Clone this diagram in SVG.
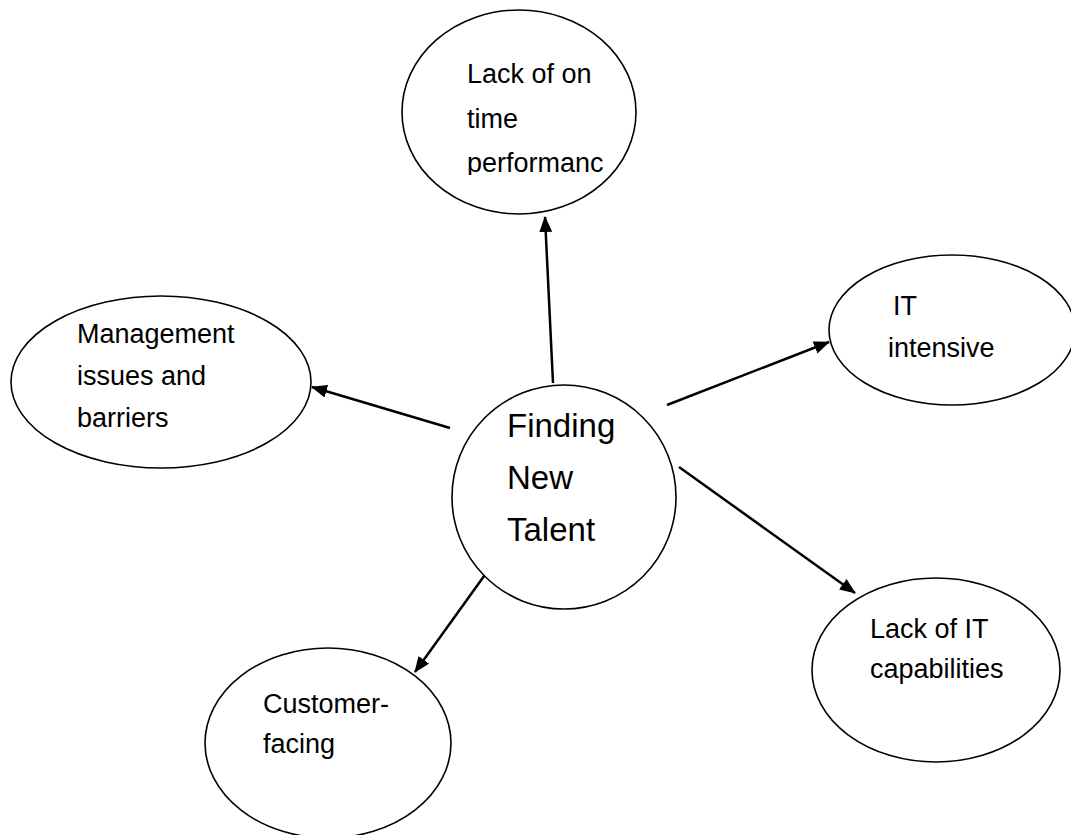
<svg xmlns="http://www.w3.org/2000/svg" width="1071" height="835" viewBox="0 0 1071 835">
  <style>
    .node { fill: #ffffff; stroke: #000000; stroke-width: 1.6; }
    .lbl { font-family: "Liberation Sans", Arial, sans-serif; font-size: 27px; fill: #000000; }
    .big { font-size: 33px; }
    .link { stroke: #000000; stroke-width: 2.5; fill: none; marker-end: url(#arrow); }
  </style>
  <defs>
    <marker id="arrow" markerUnits="userSpaceOnUse" markerWidth="16" markerHeight="14" refX="15" refY="6.5" orient="auto">
      <path d="M0,0 L16,6.5 L0,13 Z" fill="#000000"/>
    </marker>
    <clipPath id="topClip">
      <rect x="400" y="50" width="240" height="125"/>
    </clipPath>
  </defs>
  <rect width="1071" height="835" fill="#ffffff"/>

  <g id="connectors">
    <line class="link" x1="553" y1="383" x2="545" y2="217"/>
    <line class="link" x1="450" y1="428" x2="312" y2="387"/>
    <line class="link" x1="667" y1="405" x2="829" y2="342"/>
    <line class="link" x1="679" y1="467" x2="855" y2="593"/>
    <line class="link" x1="492" y1="565" x2="415" y2="672"/>
  </g>

  <g id="node-lack-on-time">
    <ellipse class="node" cx="519" cy="112" rx="117" ry="102"/>
    <g clip-path="url(#topClip)">
      <text class="lbl" x="467" y="83">Lack of on</text>
      <text class="lbl" x="467" y="128">time</text>
      <text class="lbl" x="467" y="172">performanc</text>
    </g>
  </g>

  <g id="node-management">
    <ellipse class="node" cx="161" cy="382" rx="150" ry="86"/>
    <text class="lbl" x="77" y="343">Management</text>
    <text class="lbl" x="77" y="385">issues and</text>
    <text class="lbl" x="77" y="427">barriers</text>
  </g>

  <g id="node-it-intensive">
    <ellipse class="node" cx="952" cy="330" rx="123" ry="75"/>
    <text class="lbl" x="893" y="315">IT</text>
    <text class="lbl" x="888" y="357">intensive</text>
  </g>

  <g id="node-finding-new-talent">
    <circle class="node" cx="564" cy="497" r="112"/>
    <text class="lbl big" x="507" y="437">Finding</text>
    <text class="lbl big" x="507" y="489">New</text>
    <text class="lbl big" x="507" y="541">Talent</text>
  </g>

  <g id="node-lack-it-capabilities">
    <ellipse class="node" cx="936" cy="670" rx="124" ry="92"/>
    <text class="lbl" x="870" y="638">Lack of IT</text>
    <text class="lbl" x="870" y="678">capabilities</text>
  </g>

  <g id="node-customer-facing">
    <ellipse class="node" cx="328" cy="743" rx="123" ry="95"/>
    <text class="lbl" x="263" y="713">Customer-</text>
    <text class="lbl" x="263" y="753">facing</text>
  </g>
</svg>
